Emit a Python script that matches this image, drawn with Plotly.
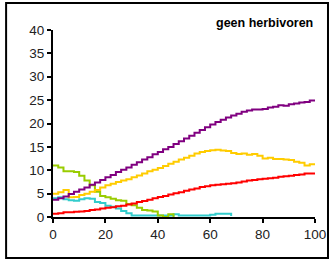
import plotly.graph_objects as go

x_full = list(range(0, 101, 2))

purple = [3.7, 4.0, 4.4, 4.9, 5.4, 5.9, 6.3, 6.9, 7.4, 7.9, 8.5, 9.0, 9.6, 10.1, 10.6, 11.2,
          11.7, 12.3, 12.8, 13.4, 13.9, 14.5, 15.0, 15.6, 16.2, 16.8, 17.4, 18.0, 18.6, 19.2,
          19.8, 20.3, 20.8, 21.3, 21.7, 22.1, 22.5, 22.8, 23.0, 23.0, 23.1, 23.4, 23.6, 23.9,
          23.8, 24.1, 24.3, 24.5, 24.6, 24.9, 25.0]
yellow = [5.0, 5.3, 5.8, 4.2, 4.3, 4.7, 5.0, 5.4, 5.8, 6.3, 6.8, 7.1, 7.5, 7.8, 8.1, 8.5,
          8.9, 9.3, 9.8, 10.1, 10.5, 10.9, 11.4, 11.8, 12.3, 12.7, 13.1, 13.6, 13.9, 14.1,
          14.3, 14.4, 14.2, 14.1, 13.7, 13.5, 13.6, 13.3, 13.5, 13.1, 12.5, 12.7, 12.4, 12.4,
          12.3, 12.2, 11.8, 11.6, 11.0, 11.3, 11.2]
red = [0.7, 0.8, 1.0, 1.0, 1.1, 1.2, 1.3, 1.5, 1.6, 1.8, 2.0, 2.1, 2.3, 2.4, 2.7, 2.9,
       3.2, 3.4, 3.7, 4.0, 4.3, 4.5, 4.8, 5.1, 5.3, 5.6, 5.9, 6.1, 6.4, 6.6, 6.8, 6.9,
       7.0, 7.1, 7.2, 7.4, 7.6, 7.8, 7.9, 8.1, 8.2, 8.3, 8.4, 8.6, 8.7, 8.8, 9.0, 9.1,
       9.3, 9.3, 9.5]

x_green = list(range(0, 47, 2))
green = [11.0, 10.6, 9.8, 9.8, 9.6, 8.8, 7.8, 6.8, 5.4, 4.5, 4.2, 3.9, 3.6, 3.5, 2.8, 2.5,
         2.0, 1.5, 1.4, 1.2, 0.3, 0.0, 0.6, 0.0]

x_cyan = list(range(0, 69, 2))
cyan = [4.0, 4.2, 3.8, 3.6, 3.5, 3.8, 4.0, 3.9, 3.2, 3.0, 2.4, 2.2, 1.8, 1.3, 0.8, 0.3,
        0.3, 0.3, 0.3, 0.3, 0.3, 0.3, 0.3, 0.6, 0.3, 0.3, 0.3, 0.3, 0.3, 0.3, 0.5, 0.7,
        0.7, 0.7, 0.2]

x_ticks = [0, 20, 40, 60, 80, 100]
y_ticks = [0, 5, 10, 15, 20, 25, 30, 35, 40]
title_text = "geen herbivoren"

fig = go.Figure()
series = [
    (x_cyan, cyan, "#33CCCC"),
    (x_green, green, "#99CC00"),
    (x_full, red, "#FF0000"),
    (x_full, yellow, "#FFCC00"),
    (x_full, purple, "#800080"),
]
for xs, ys, c in series:
    fig.add_trace(go.Scatter(x=xs, y=ys, mode="lines", line=dict(color=c, width=2, shape="hv"),
                             showlegend=False, hoverinfo="skip"))

axis_font = dict(family="Liberation Sans, Arial, sans-serif", size=13.5, color="#222222")
fig.update_layout(
    width=332, height=260,
    margin=dict(l=53, r=17, t=30, b=43, autoexpand=False),
    paper_bgcolor="white", plot_bgcolor="white",
    xaxis=dict(range=[0, 100], tickvals=x_ticks, showgrid=False, zeroline=False, automargin=False,
               showline=True, linecolor="black", linewidth=2, ticks="outside",
               ticklen=4, tickwidth=1.5, tickcolor="black", tickfont=axis_font),
    yaxis=dict(range=[0, 40], tickvals=y_ticks, showgrid=False, zeroline=False, automargin=False,
               showline=True, linecolor="black", linewidth=2, ticks="outside",
               ticklen=4, tickwidth=1.5, tickcolor="black", tickfont=axis_font),
    shapes=[dict(type="rect", xref="paper", yref="paper",
                 x0=-0.179, x1=1.0496, y0=-0.219, y1=1.144,
                 line=dict(color="black", width=2), fillcolor="rgba(0,0,0,0)")],
    annotations=[dict(text="<b>" + title_text + "</b>", xref="paper", yref="paper",
                      x=1.0, y=1.04, xanchor="right", yanchor="middle", showarrow=False,
                      font=dict(family="Liberation Sans, Arial, sans-serif", size=12.5, color="black"))],
)

fig.write_html("out.html", config={"displayModeBar": False},
               post_script="document.body.style.margin='0';document.body.style.overflow='hidden';")
